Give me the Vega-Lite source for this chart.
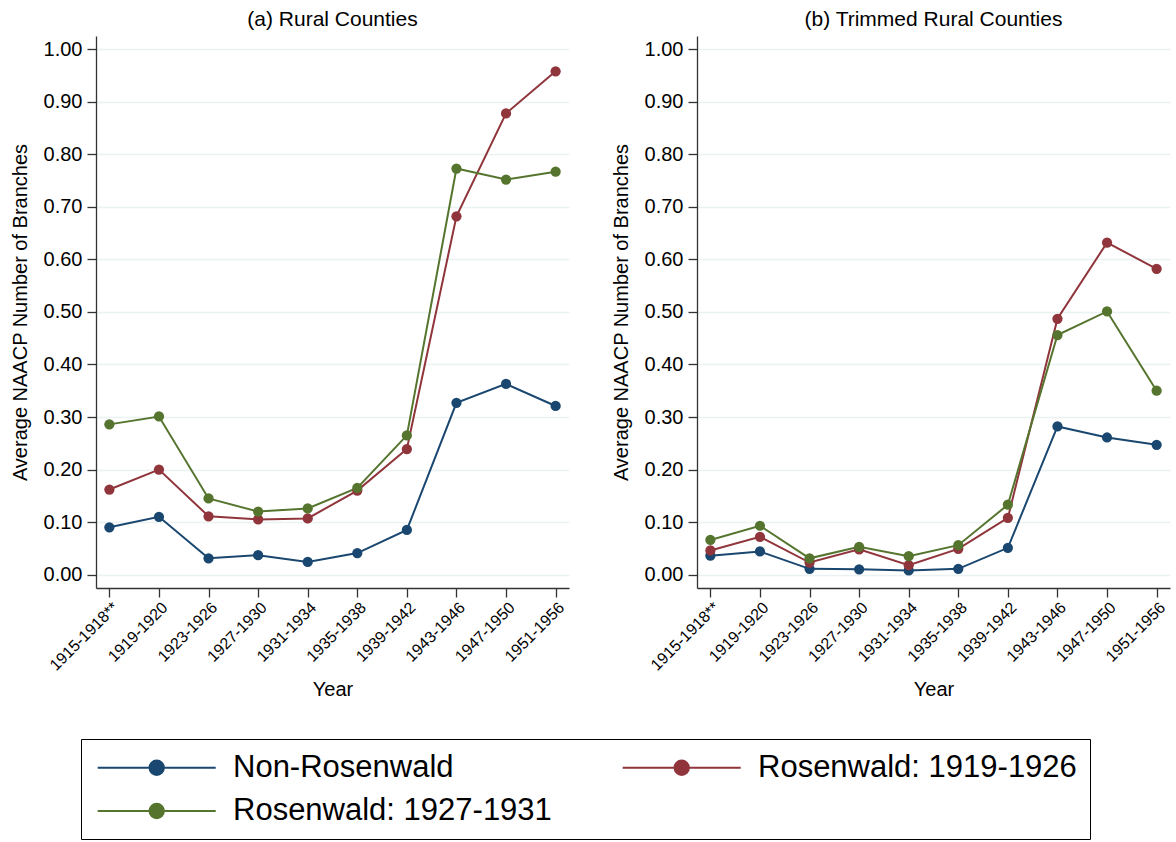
{
  "$schema": "https://vega.github.io/schema/vega-lite/v6.json",
  "padding": {"left": 10, "top": 9, "right": 2, "bottom": 0},
  "background": "white",
  "config": {
    "font": "Liberation Sans",
    "view": {"stroke": null},
    "concat": {"spacing": 42},
    "axis": {"domainColor": "#333333", "domainWidth": 1.3, "tickColor": "#333333", "tickWidth": 1.3, "tickSize": 9, "labelColor": "#000000", "titleColor": "#000000", "titleFontWeight": "normal"},
    "axisX": {"grid": false, "labelAngle": -45, "labelFontSize": 16, "labelPadding": 2, "titleFontSize": 20, "titlePadding": 6},
    "axisY": {"gridColor": "#eaf2f3", "gridWidth": 1.5, "labelFontSize": 20, "labelPadding": 5, "titleFontSize": 20, "titlePadding": 13}
  },
  "datasets": {
    "d": [
      {"panel": "a", "period": "1915-1918**", "group": "Non-Rosenwald", "value": 0.090},
      {"panel": "a", "period": "1919-1920", "group": "Non-Rosenwald", "value": 0.110},
      {"panel": "a", "period": "1923-1926", "group": "Non-Rosenwald", "value": 0.031},
      {"panel": "a", "period": "1927-1930", "group": "Non-Rosenwald", "value": 0.037},
      {"panel": "a", "period": "1931-1934", "group": "Non-Rosenwald", "value": 0.024},
      {"panel": "a", "period": "1935-1938", "group": "Non-Rosenwald", "value": 0.041},
      {"panel": "a", "period": "1939-1942", "group": "Non-Rosenwald", "value": 0.085},
      {"panel": "a", "period": "1943-1946", "group": "Non-Rosenwald", "value": 0.327},
      {"panel": "a", "period": "1947-1950", "group": "Non-Rosenwald", "value": 0.363},
      {"panel": "a", "period": "1951-1956", "group": "Non-Rosenwald", "value": 0.321},
      {"panel": "a", "period": "1915-1918**", "group": "Rosenwald: 1919-1926", "value": 0.162},
      {"panel": "a", "period": "1919-1920", "group": "Rosenwald: 1919-1926", "value": 0.200},
      {"panel": "a", "period": "1923-1926", "group": "Rosenwald: 1919-1926", "value": 0.111},
      {"panel": "a", "period": "1927-1930", "group": "Rosenwald: 1919-1926", "value": 0.105},
      {"panel": "a", "period": "1931-1934", "group": "Rosenwald: 1919-1926", "value": 0.107},
      {"panel": "a", "period": "1935-1938", "group": "Rosenwald: 1919-1926", "value": 0.160},
      {"panel": "a", "period": "1939-1942", "group": "Rosenwald: 1919-1926", "value": 0.239},
      {"panel": "a", "period": "1943-1946", "group": "Rosenwald: 1919-1926", "value": 0.682},
      {"panel": "a", "period": "1947-1950", "group": "Rosenwald: 1919-1926", "value": 0.878},
      {"panel": "a", "period": "1951-1956", "group": "Rosenwald: 1919-1926", "value": 0.958},
      {"panel": "a", "period": "1915-1918**", "group": "Rosenwald: 1927-1931", "value": 0.286},
      {"panel": "a", "period": "1919-1920", "group": "Rosenwald: 1927-1931", "value": 0.301},
      {"panel": "a", "period": "1923-1926", "group": "Rosenwald: 1927-1931", "value": 0.145},
      {"panel": "a", "period": "1927-1930", "group": "Rosenwald: 1927-1931", "value": 0.120},
      {"panel": "a", "period": "1931-1934", "group": "Rosenwald: 1927-1931", "value": 0.126},
      {"panel": "a", "period": "1935-1938", "group": "Rosenwald: 1927-1931", "value": 0.165},
      {"panel": "a", "period": "1939-1942", "group": "Rosenwald: 1927-1931", "value": 0.265},
      {"panel": "a", "period": "1943-1946", "group": "Rosenwald: 1927-1931", "value": 0.773},
      {"panel": "a", "period": "1947-1950", "group": "Rosenwald: 1927-1931", "value": 0.752},
      {"panel": "a", "period": "1951-1956", "group": "Rosenwald: 1927-1931", "value": 0.767},
      {"panel": "b", "period": "1915-1918**", "group": "Non-Rosenwald", "value": 0.036},
      {"panel": "b", "period": "1919-1920", "group": "Non-Rosenwald", "value": 0.044},
      {"panel": "b", "period": "1923-1926", "group": "Non-Rosenwald", "value": 0.011},
      {"panel": "b", "period": "1927-1930", "group": "Non-Rosenwald", "value": 0.010},
      {"panel": "b", "period": "1931-1934", "group": "Non-Rosenwald", "value": 0.008},
      {"panel": "b", "period": "1935-1938", "group": "Non-Rosenwald", "value": 0.011},
      {"panel": "b", "period": "1939-1942", "group": "Non-Rosenwald", "value": 0.051},
      {"panel": "b", "period": "1943-1946", "group": "Non-Rosenwald", "value": 0.282},
      {"panel": "b", "period": "1947-1950", "group": "Non-Rosenwald", "value": 0.261},
      {"panel": "b", "period": "1951-1956", "group": "Non-Rosenwald", "value": 0.247},
      {"panel": "b", "period": "1915-1918**", "group": "Rosenwald: 1919-1926", "value": 0.046},
      {"panel": "b", "period": "1919-1920", "group": "Rosenwald: 1919-1926", "value": 0.072},
      {"panel": "b", "period": "1923-1926", "group": "Rosenwald: 1919-1926", "value": 0.023},
      {"panel": "b", "period": "1927-1930", "group": "Rosenwald: 1919-1926", "value": 0.048},
      {"panel": "b", "period": "1931-1934", "group": "Rosenwald: 1919-1926", "value": 0.018},
      {"panel": "b", "period": "1935-1938", "group": "Rosenwald: 1919-1926", "value": 0.049},
      {"panel": "b", "period": "1939-1942", "group": "Rosenwald: 1919-1926", "value": 0.108},
      {"panel": "b", "period": "1943-1946", "group": "Rosenwald: 1919-1926", "value": 0.487},
      {"panel": "b", "period": "1947-1950", "group": "Rosenwald: 1919-1926", "value": 0.632},
      {"panel": "b", "period": "1951-1956", "group": "Rosenwald: 1919-1926", "value": 0.582},
      {"panel": "b", "period": "1915-1918**", "group": "Rosenwald: 1927-1931", "value": 0.066},
      {"panel": "b", "period": "1919-1920", "group": "Rosenwald: 1927-1931", "value": 0.093},
      {"panel": "b", "period": "1923-1926", "group": "Rosenwald: 1927-1931", "value": 0.031},
      {"panel": "b", "period": "1927-1930", "group": "Rosenwald: 1927-1931", "value": 0.053},
      {"panel": "b", "period": "1931-1934", "group": "Rosenwald: 1927-1931", "value": 0.035},
      {"panel": "b", "period": "1935-1938", "group": "Rosenwald: 1927-1931", "value": 0.056},
      {"panel": "b", "period": "1939-1942", "group": "Rosenwald: 1927-1931", "value": 0.133},
      {"panel": "b", "period": "1943-1946", "group": "Rosenwald: 1927-1931", "value": 0.456},
      {"panel": "b", "period": "1947-1950", "group": "Rosenwald: 1927-1931", "value": 0.501},
      {"panel": "b", "period": "1951-1956", "group": "Rosenwald: 1927-1931", "value": 0.350}
    ]
  },
  "hconcat": [
    {
      "width": 473,
      "height": 552,
      "title": {"text": "(a) Rural Counties", "fontSize": 21, "fontWeight": "normal", "offset": 6},
      "data": {"name": "d"},
      "transform": [{"filter": "datum.panel == 'a'"}],
      "encoding": {
        "x": {"field": "period", "type": "ordinal", "sort": null, "scale": {"type": "point", "padding": 0.27}, "title": "Year"},
        "y": {"field": "value", "type": "quantitative", "scale": {"domain": [-0.0255, 1.0253], "nice": false, "zero": false}, "axis": {"values": [0, 0.1, 0.2, 0.3, 0.4, 0.5, 0.6, 0.7, 0.8, 0.9, 1.0], "format": ".2f"}, "title": "Average NAACP Number of Branches"},
        "color": {
          "field": "group", "type": "nominal",
          "scale": {"domain": ["Non-Rosenwald", "Rosenwald: 1919-1926", "Rosenwald: 1927-1931"], "range": ["#1a476f", "#90353b", "#55752f"]},
          "legend": {
            "orient": "none", "legendX": -15, "legendY": 703,
            "direction": "horizontal", "columns": 2, "title": null,
            "symbolType": "M-1,0H9M4.6,0A0.6,0.6,0,1,1,3.4,0A0.6,0.6,0,1,1,4.6,0",
            "symbolSize": 557, "symbolStrokeWidth": 2.2,
            "labelFontSize": 31, "labelOffset": 108, "labelLimit": 500,
            "columnPadding": 66, "rowPadding": 11.5, "padding": 13,
            "strokeColor": "#000000",
            "encode": {"symbols": {"update": {"fill": {"scale": "color", "field": "value"}, "stroke": {"scale": "color", "field": "value"}, "opacity": {"value": 1}}}}
          }
        }
      },
      "layer": [
        {"mark": {"type": "line", "strokeWidth": 2}},
        {"mark": {"type": "point", "filled": true, "size": 105, "opacity": 1}}
      ]
    },
    {
      "width": 473,
      "height": 552,
      "title": {"text": "(b) Trimmed Rural Counties", "fontSize": 21, "fontWeight": "normal", "offset": 6},
      "data": {"name": "d"},
      "transform": [{"filter": "datum.panel == 'b'"}],
      "encoding": {
        "x": {"field": "period", "type": "ordinal", "sort": null, "scale": {"type": "point", "padding": 0.27}, "title": "Year"},
        "y": {"field": "value", "type": "quantitative", "scale": {"domain": [-0.0255, 1.0253], "nice": false, "zero": false}, "axis": {"values": [0, 0.1, 0.2, 0.3, 0.4, 0.5, 0.6, 0.7, 0.8, 0.9, 1.0], "format": ".2f"}, "title": "Average NAACP Number of Branches"},
        "color": {"field": "group", "type": "nominal"}
      },
      "layer": [
        {"mark": {"type": "line", "strokeWidth": 2}},
        {"mark": {"type": "point", "filled": true, "size": 105, "opacity": 1}}
      ]
    }
  ],
  "resolve": {"scale": {"color": "shared", "y": "independent"}}
}
